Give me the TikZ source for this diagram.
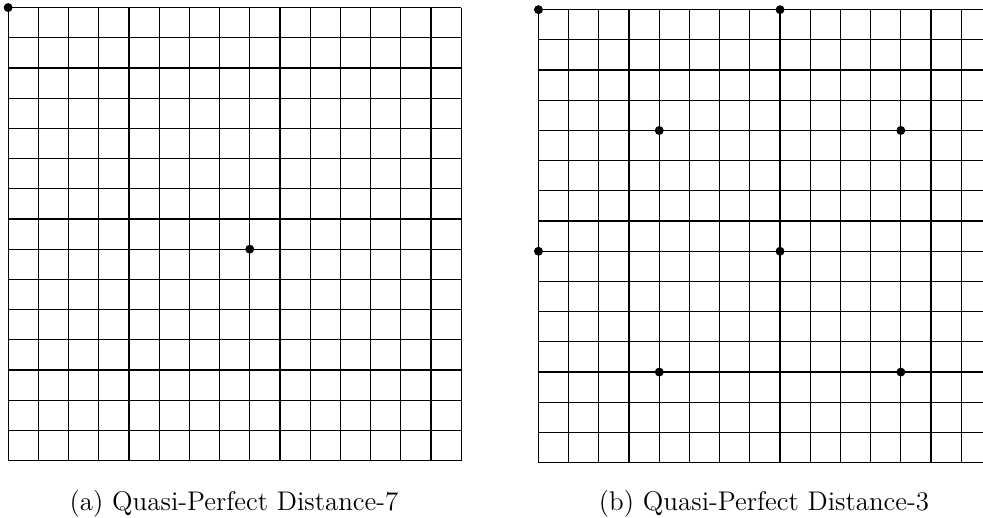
\documentclass[tikz,border=0pt]{standalone}
\usepackage{tikz}
\usetikzlibrary{positioning}

\begin{document}
\begin{tikzpicture}[
    x=0.5cm, y=0.5cm,
    gridline/.style={line width=0.55pt},
    dot/.style={circle, fill=black, inner sep=0pt, minimum size=4.2pt},
    caption/.style={font=\fontsize{12.7}{15}\selectfont, inner sep=0pt, anchor=base}
]
\useasboundingbox (0,0) rectangle (32.55,-17.12);

% left grid
\begin{scope}[shift={(0.27,-0.25)}]
\foreach \i in {0,...,15} {
    \draw[gridline] (\i,0) -- (\i,-15);
    \draw[gridline] (0,-\i) -- (15,-\i);
}
\node[dot] (a1) at (0,0) {};
\node[dot] (a2) at (8,-8) {};
\end{scope}

% right grid
\begin{scope}[shift={(17.83,-0.32)}]
\clip (-0.5,0.5) rectangle (14.72,-15.5);
\foreach \i in {0,...,15} {
    \draw[gridline] (\i,0) -- (\i,-15);
    \draw[gridline] (0,-\i) -- (15,-\i);
}
\foreach \c/\r [count=\k] in {0/0,8/0,4/4,12/4,0/8,8/8,4/12,12/12}
    \node[dot] (b\k) at (\c,-\r) {};
\end{scope}

\coordinate (acap) at (7.75,-16.89);
\coordinate (bcap) at (25.3,-16.89);
\node[caption] (capa) at (acap) {(a) Quasi-Perfect Distance-7};
\node[caption] (capb) at (bcap) {(b) Quasi-Perfect Distance-3};

\end{tikzpicture}
\end{document}
